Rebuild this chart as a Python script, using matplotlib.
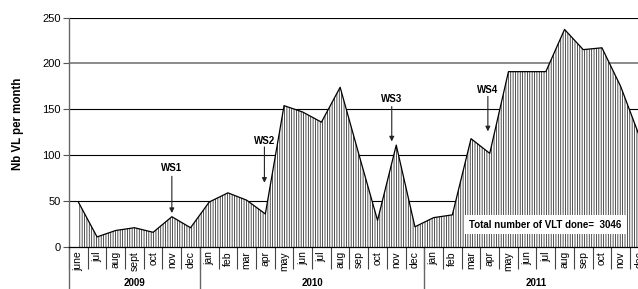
import matplotlib
matplotlib.use('Agg')
from matplotlib import pyplot as plt
import numpy as np

plt.rcParams['font.family'] = ['Liberation Sans', 'DejaVu Sans']
plt.rcParams['hatch.linewidth'] = 0.55

# mois (juin 2009 -> dec 2011)
meses_2009 = ['june', 'jul', 'aug', 'sept', 'oct', 'nov', 'dec']
meses_2010 = ['jan', 'feb', 'mar', 'apr', 'may', 'jun', 'jul', 'aug', 'sep', 'oct', 'nov', 'dec']
meses_2011 = ['jan', 'feb', 'mar', 'apr', 'may', 'jun', 'jul', 'aug', 'sep', 'oct', 'nov', 'dec']
anos = ['2009', '2010', '2011']

valores_2009 = [49, 11, 18, 21, 16, 33, 21]
valores_2010 = [49, 59, 51, 36, 154, 147, 136, 174, 101, 29, 111, 22]
valores_2011 = [32, 35, 118, 102, 191, 191, 191, 237, 215, 217, 175, 121]

# workshops: rotulo, posicao x (indice do mes), y do texto, inicio e fim da seta
ws_rotulos = ['WS1', 'WS2', 'WS3', 'WS4']
ws_x = [5.0, 9.95, 16.76, 21.9]
ws_texto_y = [86, 115, 161, 171]
ws_seta_inicio = [77, 109, 153, 164]
ws_seta_fim = [37, 70, 115, 126]

texto_total = 'Total number of VLT done=  3046'

meses = meses_2009 + meses_2010 + meses_2011
valores = valores_2009 + valores_2010 + valores_2011
n = len(meses)
x = np.arange(n)

fig = plt.figure(figsize=(6.38, 2.89), dpi=100)
ax = fig.add_axes([0.10815, 0.14533, 0.9086, 0.7941])

# linhas de grade
for v in [50, 100, 150, 250]:
  ax.axhline(v, color='black', linewidth=0.8, zorder=0)
ax.axhline(200, color='#8a8a8a', linewidth=1.4, zorder=0)

ax.fill_between(x, 0, valores, facecolor='white', edgecolor='#222222', hatch='|' * 7, linewidth=0, zorder=1)
ax.plot(x, valores, color='black', linewidth=0.9, zorder=2)

ax.set_xlim(-0.5, n - 0.5)
ax.set_ylim(0, 250)
ax.set_yticks([0, 50, 100, 150, 200, 250])
ax.tick_params(axis='y', labelsize=8, length=4.3, width=0.8, color='#555555', pad=1.5)

ax.set_xticks(x)
ax.set_xticklabels(meses, rotation=90, fontsize=7.5)
ax.set_xticks(np.arange(n + 1) - 0.5, minor=True)
ax.tick_params(axis='x', which='major', length=0, pad=3)
ax.tick_params(axis='x', which='minor', length=16, width=0.8, color='#444444')

for lado in ['top', 'right']:
  ax.spines[lado].set_visible(False)
ax.spines['bottom'].set_linewidth(0.9)
ax.spines['left'].set_color('#666666')
ax.spines['left'].set_linewidth(1.0)

# separadores de ano e rotulos
trans = ax.get_xaxis_transform()
limites = [-0.5, len(meses_2009) - 0.5, len(meses_2009) + len(meses_2010) - 0.5, n - 0.5]
for xs in limites[:3]:
  ax.plot([xs, xs], [0, -0.2], transform=trans, color='#666666', linewidth=1.0, clip_on=False)
for i, ano in enumerate(anos):
  ax.text((limites[i] + limites[i + 1]) / 2, -0.157, ano, transform=trans, ha='center', va='center',
          fontsize=7, fontweight='bold')

# workshops
for i, rot in enumerate(ws_rotulos):
  ax.text(ws_x[i], ws_texto_y[i], rot, ha='center', va='center', fontsize=7, fontweight='bold', zorder=4)
  ax.annotate('', xy=(ws_x[i], ws_seta_fim[i]), xytext=(ws_x[i], ws_seta_inicio[i]),
              arrowprops=dict(arrowstyle='-|>', color='#222222', linewidth=0.8, mutation_scale=7,
                              shrinkA=0, shrinkB=0), zorder=4)

ax.text(24.96, 24.5, texto_total, ha='center', va='center', fontsize=7, fontweight='bold', zorder=5,
        bbox=dict(boxstyle='square,pad=0.5', facecolor='white', edgecolor='none'))

fig.text(0.028, 0.5727, 'Nb VL per month', rotation=90, ha='center', va='center', fontsize=8.3, fontweight='bold')

plt.savefig('out.png', dpi=100)
